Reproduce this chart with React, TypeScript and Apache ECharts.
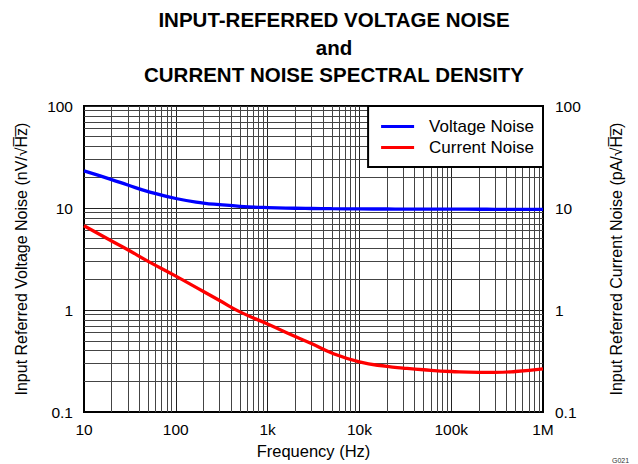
import React, { useEffect, useRef } from "react";
import * as echarts from "echarts";

const freq = [10, 20, 30, 50, 100, 200, 300, 500, 1000, 2000, 3000, 5000, 10000, 20000, 30000, 50000, 100000, 200000, 300000, 500000, 1000000];
const voltageNoise = [23.1, 19.0, 16.8, 14.5, 12.4, 11.2, 10.8, 10.4, 10.1, 9.95, 9.9, 9.85, 9.8, 9.78, 9.76, 9.75, 9.74, 9.73, 9.72, 9.71, 9.7];
const currentNoise = [6.7, 4.75, 3.9, 3.0, 2.15, 1.52, 1.24, 0.96, 0.73, 0.55, 0.47, 0.38, 0.31, 0.28, 0.27, 0.26, 0.25, 0.245, 0.245, 0.25, 0.265];

const xTickLabels = ["10", "100", "1k", "10k", "100k", "1M"];
const yTickLabels = ["0.1", "1", "10", "100"];
const xDecades = [10, 100, 1000, 10000, 100000];
const yDecades = [0.1, 1, 10];
const minorSteps = [2, 3, 4, 5, 6, 7, 8, 9];

const FONT = "Liberation Sans, Arial, sans-serif";

export default function App() {
  const ref = useRef<HTMLDivElement>(null);
  useEffect(() => {
    if (!ref.current) return;
    const chart = echarts.init(ref.current, undefined, { renderer: "svg" });
    const minorX: any[] = [];
    xDecades.forEach((d) => minorSteps.forEach((m) => minorX.push({ xAxis: d * m })));
    const minorY: any[] = [];
    yDecades.forEach((d) => minorSteps.forEach((m) => minorY.push({ yAxis: d * m })));
    const xLab = (v: number) => xTickLabels[Math.round(Math.log10(v)) - 1] ?? "";
    const yLab = (v: number) => yTickLabels[Math.round(Math.log10(v)) + 1] ?? "";
    const tickStyle = { color: "#000", fontSize: 15.5, fontFamily: FONT };
    const nameStyle = { color: "#000", fontSize: 16, fontFamily: FONT };
    chart.setOption({
      animation: false,
      title: {
        text: "INPUT-REFERRED VOLTAGE NOISE\nand\nCURRENT NOISE SPECTRAL DENSITY",
        left: 334,
        textAlign: "center",
        top: 6,
        padding: 0,
        textStyle: { fontFamily: FONT, fontSize: 20.5, fontWeight: "bold", color: "#000", lineHeight: 27.5 },
      },
      grid: { left: 84, top: 106, right: 95, bottom: 48, show: true, borderColor: "#000", borderWidth: 2, backgroundColor: "transparent" },
      legend: {
        data: ["Voltage Noise", "Current Noise"],
        orient: "vertical",
        right: 95,
        top: 106,
        backgroundColor: "#fff",
        borderColor: "#000",
        borderWidth: 2,
        borderRadius: 0,
        padding: [12, 9, 11, 13],
        itemGap: 4,
        itemWidth: 33,
        itemHeight: 3,
        icon: "rect",
        textStyle: { color: "#000", fontSize: 17, fontFamily: FONT, padding: [0, 0, 0, 10] },
        z: 10,
      },
      xAxis: {
        type: "log",
        logBase: 10,
        min: 10,
        max: 1000000,
        name: "Frequency (Hz)",
        nameLocation: "middle",
        nameGap: 28,
        nameTextStyle: { ...nameStyle, fontSize: 16.5 },
        axisLine: { show: true, lineStyle: { color: "#000", width: 2 } },
        axisTick: { show: false },
        axisLabel: { ...tickStyle, margin: 9, formatter: xLab },
        splitLine: { show: true, lineStyle: { color: "#222", width: 1 } },
      },
      yAxis: [
        {
          type: "log",
          logBase: 10,
          min: 0.1,
          max: 100,
          position: "left",
          name: "Input Referred Voltage Noise (nV/√H\u0305z\u0305)",
          nameLocation: "middle",
          nameRotate: 90,
          nameGap: 55,
          nameTextStyle: nameStyle,
          axisLine: { show: true, lineStyle: { color: "#000", width: 2 } },
          axisTick: { show: false },
          axisLabel: { ...tickStyle, margin: 11, formatter: yLab },
          splitLine: { show: true, lineStyle: { color: "#222", width: 1 } },
        },
        {
          type: "log",
          logBase: 10,
          min: 0.1,
          max: 100,
          position: "right",
          name: "Input Referred Current Noise (pA/√H\u0305z\u0305)",
          nameLocation: "middle",
          nameRotate: 90,
          nameGap: 65,
          nameTextStyle: nameStyle,
          axisLine: { show: true, lineStyle: { color: "#000", width: 2 } },
          axisTick: { show: false },
          axisLabel: { ...tickStyle, margin: 12, formatter: yLab },
          splitLine: { show: false },
        },
      ],
      series: [
        {
          name: "grid",
          type: "line",
          data: [[10, 1]],
          showSymbol: false,
          lineStyle: { opacity: 0 },
          silent: true,
          z: 1,
          markLine: {
            silent: true,
            symbol: ["none", "none"],
            label: { show: false },
            lineStyle: { color: "#444", width: 1, type: "solid" },
            emphasis: { disabled: true },
            data: [...minorX, ...minorY],
          },
        },
        {
          name: "Voltage Noise",
          type: "line",
          yAxisIndex: 0,
          data: freq.map((f, i) => [f, voltageNoise[i]]),
          smooth: true,
          showSymbol: false,
          lineStyle: { color: "#0000ff", width: 3.3 },
          itemStyle: { color: "#0000ff" },
          z: 5,
        },
        {
          name: "Current Noise",
          type: "line",
          yAxisIndex: 1,
          data: freq.map((f, i) => [f, currentNoise[i]]),
          smooth: true,
          showSymbol: false,
          lineStyle: { color: "#ff0000", width: 3.3 },
          itemStyle: { color: "#ff0000" },
          z: 5,
        },
      ],
      graphic: [
        { type: "text", left: 612, top: 457, style: { text: "G021", fontSize: 7, fontFamily: FONT, fill: "#333" } },
      ],
    });
    return () => chart.dispose();
  }, []);
  return <div ref={ref} style={{ position: "absolute", left: 0, top: 0, width: 638, height: 464 }} />;
}
